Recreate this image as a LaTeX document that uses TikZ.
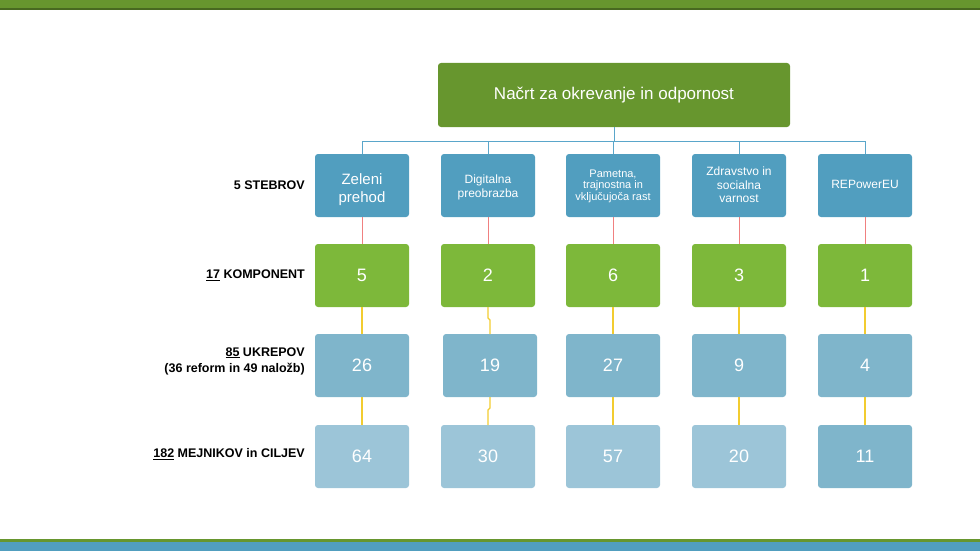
\documentclass[tikz,border=0pt]{standalone}
\usepackage{fontspec}
\setmainfont{Liberation Sans}
\begin{document}
\begin{tikzpicture}[x=1pt,y=-1pt,
 bx/.style={rounded corners=3pt,text=white,align=center,inner sep=0pt},
 lab/.style={anchor=east,font=\bfseries\fontsize{12.5}{16}\selectfont,align=right,inner sep=0pt},
 bl/.style={draw=cBl,line width=0.9pt},
 rd/.style={draw=cRd,line width=0.9pt},
 ye/.style={draw=cYe,line width=1.2pt}]
\definecolor{cRoot}{HTML}{67962E}
\definecolor{cR1}{HTML}{519EBF}
\definecolor{cR2}{HTML}{7DB83A}
\definecolor{cR3}{HTML}{7FB5CB}
\definecolor{cR4}{HTML}{9CC5D8}
\definecolor{cBl}{HTML}{5AA6CA}
\definecolor{cRd}{HTML}{F08080}
\definecolor{cYe}{HTML}{F2CC30}
\useasboundingbox (0,0) rectangle (980,551);
\fill[cRoot] (0,0) rectangle (980,10);
\fill[cRoot!70!black] (0,8) rectangle (980,10);
\fill[cRoot] (0,539) rectangle (980,542);
\fill[cR1] (0,542) rectangle (980,551);
\fill[cRoot,rounded corners=3pt] (438,63) rectangle (790,127);
\node[text=white,font=\fontsize{17}{20}\selectfont] (root) at (614,95) {Načrt za okrevanje in odpornost};
\coordinate (rb) at (614,127);
% row boxes
\foreach \i/\x/\t/\f/\b/\y in {1/362/{Zeleni\\prehod}/15/18/190, 2/488/{Digitalna\\preobrazba}/12/14/187, 3/613/{Pametna,\\trajnostna in\\vključujoča rast}/11/11.5/186, 4/739/{Zdravstvo in\\socialna\\varnost}/12/13.5/185, 5/865/{REPowerEU}/12/14/184}{
 \fill[cR1,rounded corners=3pt] (\x-47,154) rectangle (\x+47,217);
 \node[bx,font=\fontsize{\f}{\b}\selectfont] (a\i) at (\x,\y) {\t};
 \coordinate (at\i) at (\x,154); \coordinate (ab\i) at (\x,217);
}
\foreach \i/\x/\n in {1/362/5,2/488/2,3/613/6,4/739/3,5/865/1}{
 \fill[cR2,rounded corners=3pt] (\x-47,244) rectangle (\x+47,307);
 \node[bx,font=\fontsize{18}{21}\selectfont] (b\i) at (\x,275.5) {\n};
 \coordinate (bt\i) at (\x,244); \coordinate (bb\i) at (\x,307);
 \draw[rd] (ab\i) -- (bt\i);
}
\foreach \i/\x/\n in {1/362/26,2/490/19,3/613/27,4/739/9,5/865/4}{
 \fill[cR3,rounded corners=3pt] (\x-47,334) rectangle (\x+47,397);
 \node[bx,font=\fontsize{18}{21}\selectfont] (c\i) at (\x,365.5) {\n};
 \coordinate (ct\i) at (\x,334); \coordinate (cb\i) at (\x,397);
}
\foreach \i/\x/\n/\c in {1/362/64/cR4,2/488/30/cR4,3/613/57/cR4,4/739/20/cR4,5/865/11/cR3}{
 \fill[\c,rounded corners=3pt] (\x-47,425) rectangle (\x+47,488);
 \node[bx,font=\fontsize{18}{21}\selectfont] (d\i) at (\x,456.5) {\n};
 \coordinate (dt\i) at (\x,425);
}
\foreach \i in {1,3,4,5}{\draw[ye] (bb\i) -- (ct\i); \draw[ye] (cb\i) -- (dt\i);}
\draw[ye] (bb2) -- (488,318) -- (490,320) -- (ct2);
\draw[ye] (cb2) -- (490,408) -- (488,410) -- (dt2);
% tree connector
\draw[bl] (rb) -- (614,141);
\draw[bl] (at1) -- (362,141) -- (865,141) -- (at5);
\draw[bl] (at2) -- (488,141);
\draw[bl] (at3) -- (613,141);
\draw[bl] (at4) -- (739,141);
% labels
\node[lab] (l1) at (305,185) {5 STEBROV};
\node[lab] (l2) at (305,275) {\underline{17} KOMPONENT};
\node[lab] (l3) at (305,361) {\underline{85} UKREPOV\\(36 reform in 49 naložb)};
\node[lab] (l4) at (305,454) {\underline{182} MEJNIKOV in CILJEV};
\end{tikzpicture}
\end{document}
